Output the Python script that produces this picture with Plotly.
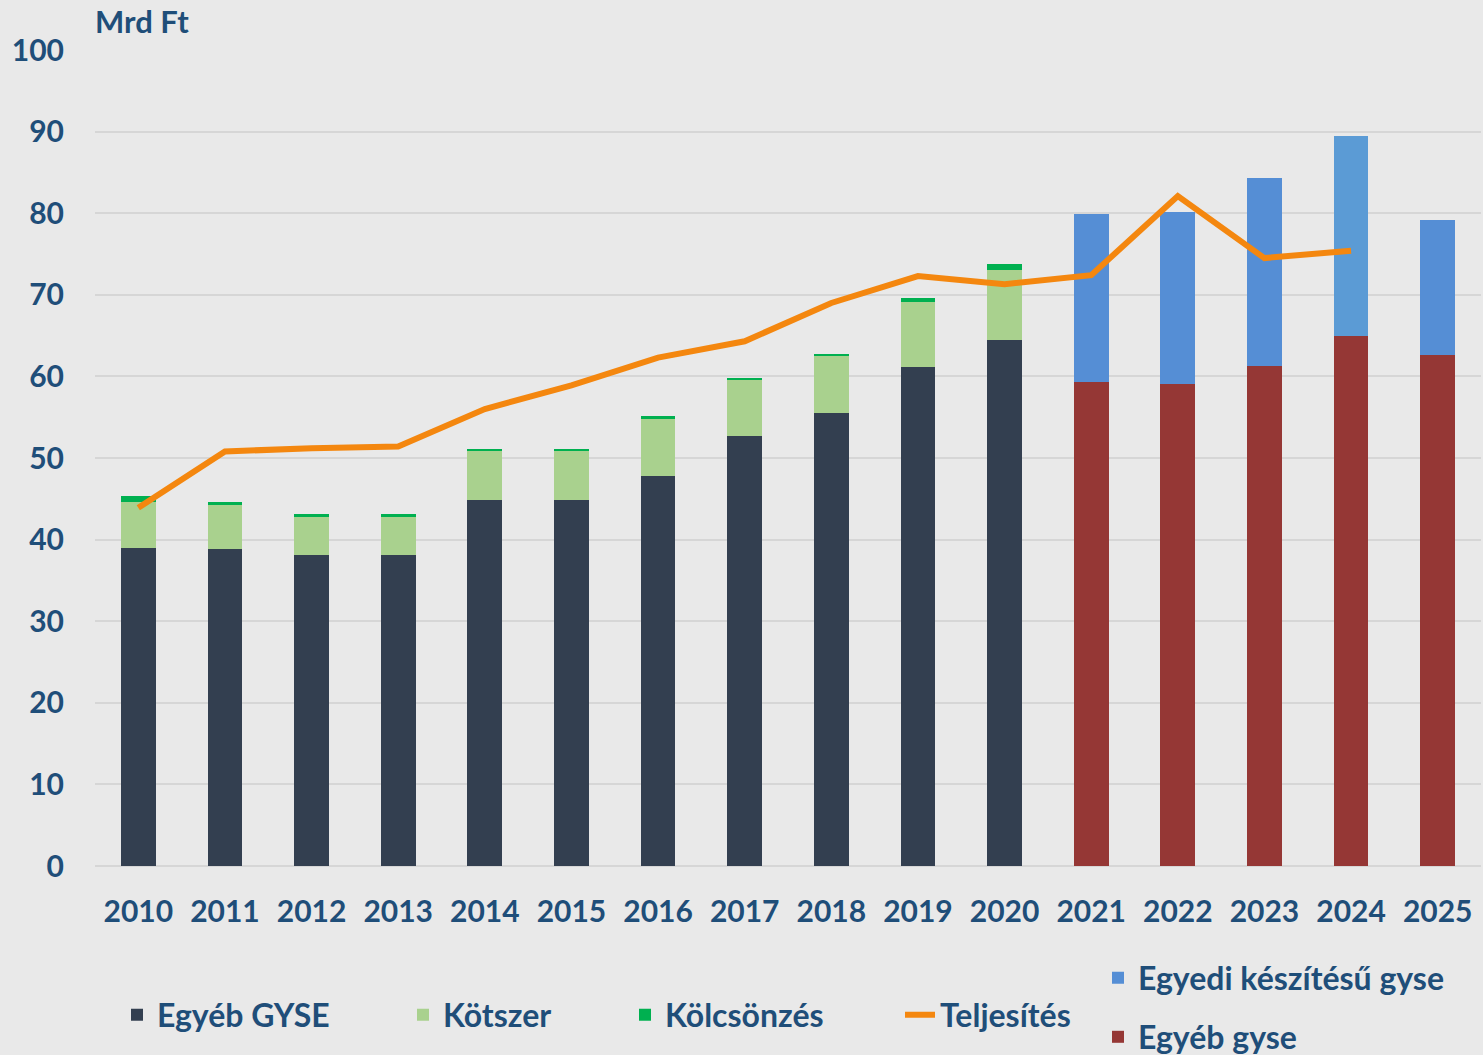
import plotly.graph_objects as go

years = [str(y) for y in range(2010, 2026)]
old_years = years[:11]
new_years = years[11:]
line_years = years[:15]

egyeb_gyse = [39.0, 38.8, 38.1, 38.1, 44.8, 44.8, 47.8, 52.7, 55.5, 61.1, 64.5]
kotszer = [5.6, 5.5, 4.7, 4.7, 6.0, 6.1, 7.0, 6.9, 7.1, 8.0, 8.6]
kolcsonzes = [0.7, 0.3, 0.3, 0.3, 0.3, 0.2, 0.3, 0.2, 0.2, 0.5, 0.7]
egyeb_gyse_uj = [59.3, 59.1, 61.3, 65.0, 62.6]
egyedi = [20.6, 21.0, 23.0, 24.5, 16.6]
teljesites = [43.9, 50.8, 51.2, 51.4, 56.0, 58.9, 62.3, 64.3, 69.0, 72.3, 71.3, 72.4, 82.1, 74.5, 75.4]

FONT = "Lato"
TXT = "#1F4E79"
BG = "#E9E9E9"
blue_colors = ["#558ED5", "#558ED5", "#558ED5", "#5B9BD5", "#558ED5"]

fig = go.Figure()
fig.add_bar(x=old_years, y=egyeb_gyse, name="Egyéb GYSE", marker_color="#333F50",
            marker_line_width=0, legend="legend")
fig.add_bar(x=old_years, y=kotszer, name="Kötszer", marker_color="#A9D18E",
            marker_line_width=0, legend="legend2")
fig.add_bar(x=old_years, y=kolcsonzes, name="Kölcsönzés", marker_color="#00B050",
            marker_line_width=0, legend="legend3")
fig.add_bar(x=new_years, y=egyeb_gyse_uj, name="Egyéb gyse", marker_color="#953735",
            marker_line_width=0, legend="legend6")
fig.add_bar(x=new_years, y=egyedi, name="Egyedi készítésű gyse", marker_color=blue_colors,
            marker_line_width=0, legend="legend5")
fig.add_scatter(x=line_years, y=teljesites, name="Teljesítés", mode="lines",
                line=dict(color="#F4870F", width=6), legend="legend4")

W, H = 1483, 1055
ML, MR, MT, MB = 95, 2, 50, 189
PW, PH = W - ML - MR, H - MT - MB

def leg(px, py):
    return dict(x=px / W, y=1 - py / H, xref="container", yref="container",
                xanchor="left", yanchor="middle", bgcolor="rgba(0,0,0,0)",
                font=dict(family=FONT, size=32, color=TXT), orientation="h")

fig.update_layout(
    width=W, height=H,
    barmode="stack", bargap=0.6,
    paper_bgcolor=BG, plot_bgcolor=BG,
    margin=dict(l=ML, r=MR, t=MT, b=MB),
    font=dict(family=FONT, size=30, color=TXT, weight="bold"),
    showlegend=True,
    legend=leg(117, 1015),
    legend2=leg(403, 1015),
    legend3=leg(625, 1015),
    legend4=leg(900, 1015),
    legend5=leg(1098, 978),
    legend6=leg(1098, 1037),
    xaxis=dict(type="category", showgrid=False, showline=False, ticks="",
               ticklabelstandoff=25,
               tickfont=dict(family=FONT, size=30, color=TXT, weight="bold")),
    yaxis=dict(range=[0, 100], dtick=10, showgrid=True, gridcolor="#D6D6D6", gridwidth=2,
               zeroline=True, zerolinecolor="#D6D6D6", zerolinewidth=2,
               ticks="", ticklabelstandoff=30,
               tickfont=dict(family=FONT, size=30, color=TXT, weight="bold")),
    annotations=[dict(text="Mrd Ft", x=(93 - ML) / PW, y=(H - MB - 21) / PH,
                      xref="paper", yref="paper", xanchor="left", yanchor="middle",
                      showarrow=False,
                      font=dict(family=FONT, size=31, color=TXT, weight="bold"))],
)

fig.write_html("out.html", config={"displayModeBar": False},
               post_script="document.body.style.margin='0';document.body.style.overflow='hidden';")
